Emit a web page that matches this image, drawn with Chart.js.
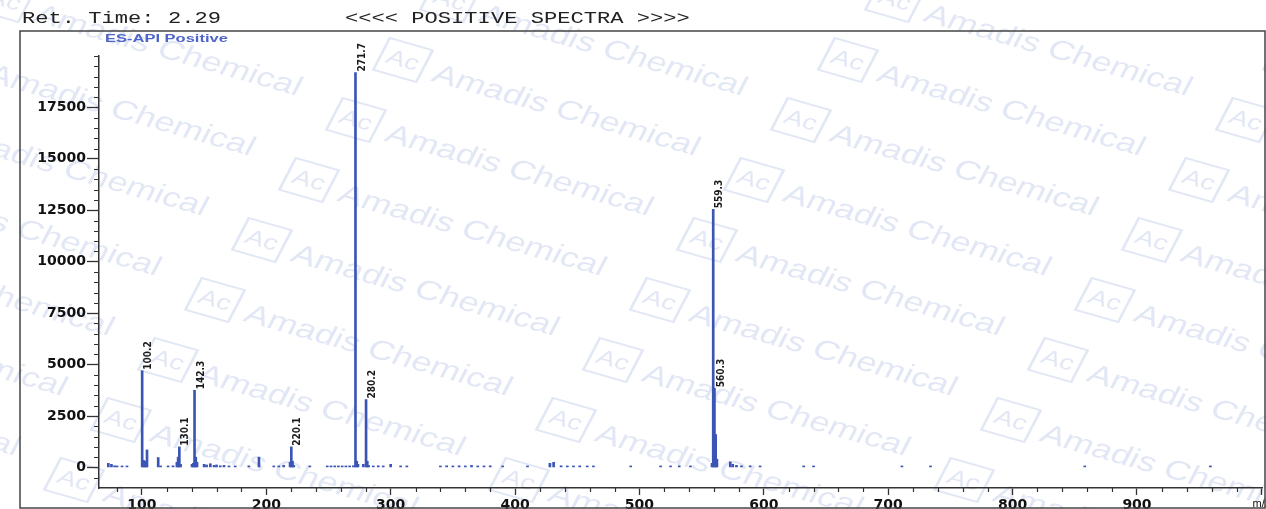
<!DOCTYPE html>
<html>
<head>
<meta charset="utf-8">
<script src="https://cdn.jsdelivr.net/npm/chart.js@4.4.1/dist/chart.umd.min.js"></script>
<style>
html,body{margin:0;padding:0;background:#fff;}
#wrap{position:relative;width:1266px;height:509px;overflow:hidden;}
#c{position:absolute;left:0;top:0;}
.hdr{position:absolute;font-family:"Liberation Mono","DejaVu Sans Mono",monospace;font-size:17px;color:#222;transform:scaleX(1.3);transform-origin:0 0;white-space:pre;line-height:1;}
#mode{position:absolute;left:105px;top:33px;font-family:"Liberation Sans",Arial,sans-serif;font-weight:bold;font-size:11px;line-height:1;color:#4f65c8;transform:scaleX(1.5);transform-origin:0 0;white-space:pre;}
</style>
</head>
<body>
<div id="wrap">
<canvas id="c" width="1266" height="509"></canvas>
<div class="hdr" style="left:22px;top:10px">Ret. Time: 2.29</div>
<div class="hdr" style="left:345px;top:10px">&lt;&lt;&lt;&lt; POSITIVE SPECTRA &gt;&gt;&gt;&gt;</div>
<div id="mode">ES-API Positive</div>
</div>
<script>
// ---- data ----
const labeledMz = [100.2, 130.1, 142.3, 220.1, 271.7, 280.2, 559.3, 560.3];
const labeledIntensity = [4700, 1000, 3750, 1000, 19200, 3300, 12550, 3850];

const minorMz = [73, 75.5, 78, 80, 84, 88, 101.2, 102.2, 103.2, 104.1,
  113.1, 115, 121, 125, 128.1, 129.1, 131.1, 140.3, 141.3, 143.3,
  144.3, 150, 152, 155, 158, 160, 163, 166, 170, 175,
  186, 194.1, 206, 210, 214, 219.1, 221.1, 222.1, 235, 249,
  252, 255, 258, 261, 264, 267, 270, 272.7, 273.7, 278,
  281.2, 282.2, 286, 290, 294, 300, 308, 313, 340, 345,
  350, 355, 360, 365, 370, 375, 380, 390, 410, 428,
  431, 437, 442, 447, 452, 458, 463, 493, 517, 525,
  532, 541, 558.3, 561.3, 562.3, 573, 575, 578, 582, 589,
  597, 632, 640, 711, 734, 858, 959];
const minorIntensity = [200, 150, 80, 50, 50, 50, 350, 300, 250, 850,
  480, 60, 60, 80, 250, 500, 150, 150, 200, 500,
  250, 150, 120, 180, 100, 120, 80, 100, 60, 50,
  40, 500, 40, 60, 100, 250, 300, 100, 60, 50,
  50, 50, 50, 60, 60, 60, 80, 300, 150, 150,
  300, 100, 60, 80, 60, 150, 60, 60, 60, 80,
  50, 80, 60, 100, 50, 60, 80, 50, 50, 200,
  250, 80, 60, 60, 80, 60, 50, 60, 60, 50,
  80, 60, 200, 1600, 400, 270, 150, 100, 80, 80,
  60, 50, 50, 40, 40, 40, 40];

const xTicks = [100, 200, 300, 400, 500, 600, 700, 800, 900, 1000];
const xTickLabels = ['100', '200', '300', '400', '500', '600', '700', '800', '900', 'm/z'];
const yTicks = [0, 2500, 5000, 7500, 10000, 12500, 15000, 17500];
const yTickLabels = ['0', '2500', '5000', '7500', '10000', '12500', '15000', '17500'];

const xMin = 65.5, xMax = 1000.5, xMinorStep = 20;
const yMin = -1000, yMax = 20000, yMinorStep = 500;

// ---- build points ----
const points = [];
labeledMz.forEach((m, i) => points.push({x: m, y: labeledIntensity[i]}));
minorMz.forEach((m, i) => points.push({x: m, y: minorIntensity[i]}));
points.sort((a, b) => a.x - b.x);

// ---- plugins ----
const watermark = {
  id: 'watermark',
  beforeDraw(chart) {
    const ctx = chart.ctx;
    ctx.save();
    ctx.fillStyle = '#fff';
    ctx.fillRect(0, 0, chart.width, chart.height);
    const col = 'rgba(100,130,200,0.19)';
    ctx.fillStyle = col; ctx.strokeStyle = col;
    for (let c = -2; c < 4; c++) {
      for (let r = -1; r < 9; r++) {
        const cx = 403 + c * 445 - r * 47;
        const cy = 60 + r * 60;
        if (cx < -450 || cx > 1350 || cy < -40 || cy > 560) continue;
        ctx.save();
        ctx.translate(cx, cy);
        ctx.scale(1.35, 1);
        ctx.rotate(21 * Math.PI / 180);
        ctx.lineWidth = 2;
        ctx.strokeRect(-17, -17, 34, 34);
        ctx.font = '21px "Liberation Sans", Arial, sans-serif';
        ctx.textAlign = 'center';
        ctx.textBaseline = 'middle';
        ctx.fillText('Ac', 0, 1);
        ctx.font = '27px "Liberation Sans", Arial, sans-serif';
        ctx.textAlign = 'left';
        ctx.textBaseline = 'alphabetic';
        ctx.fillText('Amadis Chemical', 26, 12);
        ctx.restore();
      }
    }
    ctx.restore();
  }
};

const peakLabels = {
  id: 'peakLabels',
  afterDatasetsDraw(chart) {
    const ctx = chart.ctx, xs = chart.scales.x, ys = chart.scales.y;
    ctx.save();
    ctx.fillStyle = '#1a1a1a';
    ctx.font = 'bold 10px "DejaVu Sans Condensed", "Liberation Sans Narrow", "DejaVu Sans", sans-serif';
    ctx.textAlign = 'left';
    ctx.textBaseline = 'top';
    labeledMz.forEach((m, i) => {
      const px = xs.getPixelForValue(m);
      const py = ys.getPixelForValue(labeledIntensity[i]);
      ctx.save();
      ctx.translate(px + 1.5, py - 1);
      ctx.rotate(-Math.PI / 2);
      ctx.fillText(m.toFixed(1), 0, 0);
      ctx.restore();
    });
    ctx.restore();
  }
};

const minorTicks = {
  id: 'minorTicks',
  afterDraw(chart) {
    const ctx = chart.ctx, xs = chart.scales.x, ys = chart.scales.y, a = chart.chartArea;
    ctx.save();
    ctx.strokeStyle = '#333';
    ctx.lineWidth = 1.2;
    ctx.beginPath();
    for (let v = yMin + yMinorStep; v <= yMax; v += yMinorStep) {
      if (yTicks.includes(v)) continue;
      const py = Math.round(ys.getPixelForValue(v)) + 0.5;
      ctx.moveTo(a.left - 5, py); ctx.lineTo(a.left, py);
    }
    for (let v = Math.ceil(xMin / xMinorStep) * xMinorStep; v <= xMax; v += xMinorStep) {
      if (xTicks.includes(v)) continue;
      const px = Math.round(xs.getPixelForValue(v)) + 0.5;
      ctx.moveTo(px, a.bottom); ctx.lineTo(px, a.bottom + 4);
    }
    ctx.stroke();
    // outer frame
    ctx.lineWidth = 1.5;
    ctx.strokeStyle = '#444';
    ctx.strokeRect(20, 31, 1245, 477);
    ctx.restore();
  }
};

new Chart(document.getElementById('c'), {
  type: 'bar',
  data: {
    datasets: [{
      data: points,
      backgroundColor: '#3b55b5',
      borderWidth: 0,
      barThickness: 2,
      minBarLength: 1.5
    }]
  },
  options: {
    responsive: false,
    animation: false,
    events: [],
    layout: {padding: {left: 0, top: 56, right: 4, bottom: 0}},
    plugins: {legend: {display: false}, tooltip: {enabled: false}, title: {display: false}},
    scales: {
      x: {
        type: 'linear', min: xMin, max: xMax, offset: false,
        afterBuildTicks(s) { s.ticks = xTicks.map(v => ({value: v})); },
        ticks: {
          autoSkip: false, maxRotation: 0, padding: 2,
          color: '#111',
          font: c => (c.tick && c.tick.value === 1000
            ? {family: '"Liberation Sans", sans-serif', size: 11, weight: 'normal'}
            : {family: '"DejaVu Sans", sans-serif', size: 14, weight: 'bold'}),
          callback: v => { const i = xTicks.indexOf(v); return i >= 0 ? xTickLabels[i] : ''; }
        },
        grid: {drawOnChartArea: false, drawTicks: true, tickLength: 7, tickColor: '#333', tickWidth: 1.3, offset: false},
        border: {display: true, color: '#333', width: 1.5},
        afterFit(s) { s.height = 21; s.paddingLeft = 0; s.paddingRight = 0; }
      },
      y: {
        type: 'linear', min: yMin, max: yMax,
        afterBuildTicks(s) { s.ticks = yTicks.map(v => ({value: v})); },
        ticks: {
          autoSkip: false, padding: 1,
          color: '#111', font: {family: '"DejaVu Sans", sans-serif', size: 14, weight: 'bold'},
          callback: v => { const i = yTicks.indexOf(v); return i >= 0 ? yTickLabels[i] : ''; }
        },
        grid: {drawOnChartArea: false, drawTicks: true, tickLength: 12, tickWidth: 1.3, tickColor: '#333'},
        border: {display: true, color: '#333', width: 1.5},
        afterFit(s) { s.width = 99; s.paddingTop = 0; s.paddingBottom = 0; }
      }
    }
  },
  plugins: [watermark, peakLabels, minorTicks]
});
</script>
</body>
</html>
